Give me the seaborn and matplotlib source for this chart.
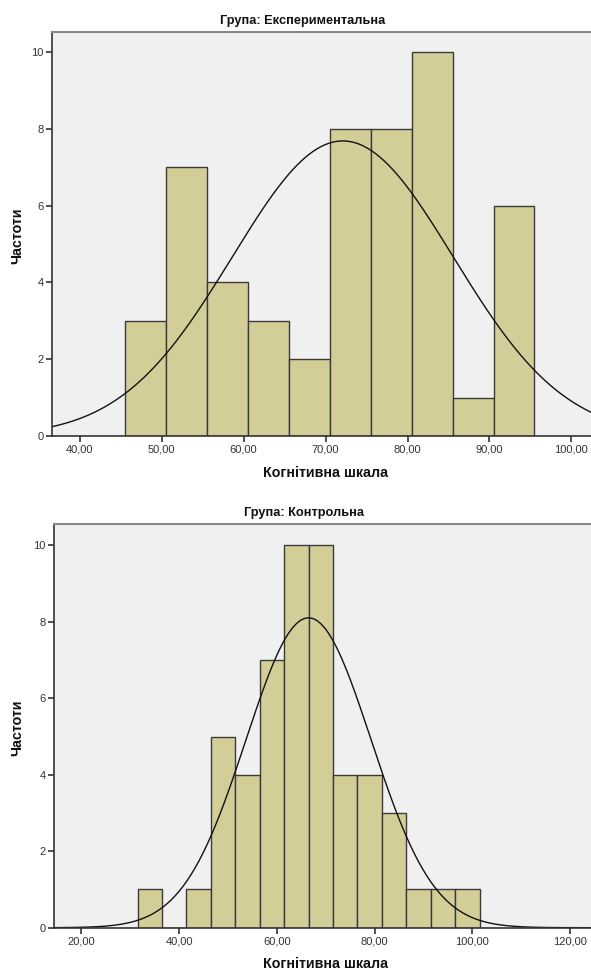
import numpy as np
import pandas as pd
import matplotlib
matplotlib.use("Agg")
import matplotlib.pyplot as plt
from matplotlib.ticker import FuncFormatter, FixedLocator
import seaborn as sns

sns.set_style("white")
plt.rcParams['font.family'] = ['Liberation Sans', 'DejaVu Sans']

# ---- data ----
exp_edges = [45.5, 50.5, 55.5, 60.5, 65.5, 70.5, 75.5, 80.5, 85.5, 90.5, 95.5]
exp_counts = [3, 7, 4, 3, 2, 8, 8, 10, 1, 6]
exp_mean, exp_sd = 72.1, 13.5

ctl_edges = [31.5, 36.5, 41.5, 46.5, 51.5, 56.5, 61.5, 66.5, 71.5, 76.5, 81.5, 86.5, 91.5, 96.5, 101.5]
ctl_counts = [1, 0, 1, 5, 4, 7, 10, 10, 4, 4, 3, 1, 1, 1]
ctl_mean, ctl_sd = 66.5, 12.8

exp_xticks = [40, 50, 60, 70, 80, 90, 100]
ctl_xticks = [20, 40, 60, 80, 100, 120]
yticks = [0, 2, 4, 6, 8, 10]

titles = ["Група: Експериментальна", "Група: Контрольна"]
xlabel = "Когнітивна шкала"
ylabel = "Частоти"

W, H = 591, 972
fig = plt.figure(figsize=(W / 100, H / 100), dpi=100)
fig.patch.set_facecolor("white")

BAR = "#d3ce97"
EDGE = "#3a3a3a"
BG = "#f0f0f0"


def px_axes(left, top, right, bottom):
    return fig.add_axes([left / W, 1 - bottom / H, (right - left) / W, (bottom - top) / H])


def draw(ax, edges, counts, mean, sd, xlim, xticks, ylim):
    e = np.array(edges)
    mids = (e[:-1] + e[1:]) / 2
    df = pd.DataFrame({"x": mids, "w": counts})
    sns.histplot(data=df, x="x", weights="w", bins=list(edges), ax=ax,
                 color=BAR, edgecolor=EDGE, linewidth=1.0, alpha=1.0)
    n = sum(counts)
    bw = e[1] - e[0]
    xs = np.linspace(xlim[0], xlim[1], 400)
    ys = n * bw / (sd * np.sqrt(2 * np.pi)) * np.exp(-0.5 * ((xs - mean) / sd) ** 2)
    sns.lineplot(x=xs, y=ys, ax=ax, color="#111111", linewidth=1.0)
    ax.set_xlim(*xlim)
    ax.set_ylim(*ylim)
    ax.set_facecolor(BG)
    ax.xaxis.set_major_locator(FixedLocator(xticks))
    ax.yaxis.set_major_locator(FixedLocator(yticks))
    ax.xaxis.set_major_formatter(FuncFormatter(lambda v, p: f"{v:.2f}".replace(".", ",")))
    ax.yaxis.set_major_formatter(FuncFormatter(lambda v, p: f"{int(v)}"))
    ax.tick_params(axis="both", direction="out", length=4, width=1.2, color="#333333",
                   labelsize=8, labelcolor="#333333", pad=2, left=True, bottom=True)
    ax.set_xlabel("")
    ax.set_ylabel("")
    for s in ["left", "bottom"]:
        ax.spines[s].set_color("#333333")
        ax.spines[s].set_linewidth(1.2)
    ax.spines["top"].set_color("#888888")
    ax.spines["top"].set_linewidth(1.5)
    ax.spines["right"].set_visible(False)


ax1 = px_axes(52, 32, 591, 436)
draw(ax1, exp_edges, exp_counts, exp_mean, exp_sd, (36.6, 102.4), exp_xticks, (0, 10.52))
ax2 = px_axes(54.3, 524.3, 591, 927.7)
draw(ax2, ctl_edges, ctl_counts, ctl_mean, ctl_sd, (14.47, 124.3), ctl_xticks, (0, 10.55))


def ftext(x, y, s, **kw):
    fig.text(x / W, 1 - y / H, s, ha="center", va="center", **kw)


ftext(303, 21, titles[0], fontsize=9.2, fontweight="bold", color="#111111")
ftext(303.5, 513, titles[1], fontsize=9.2, fontweight="bold", color="#111111")
ftext(325.5, 473, xlabel, fontsize=10.3, fontweight="bold", color="#111111")
ftext(325.5, 964, xlabel, fontsize=10.3, fontweight="bold", color="#111111")
ftext(17, 236, ylabel, fontsize=10.3, fontweight="bold", color="#111111", rotation=90)
ftext(17, 728, ylabel, fontsize=10.3, fontweight="bold", color="#111111", rotation=90)

fig.savefig("out.png", dpi=100, facecolor="white")
